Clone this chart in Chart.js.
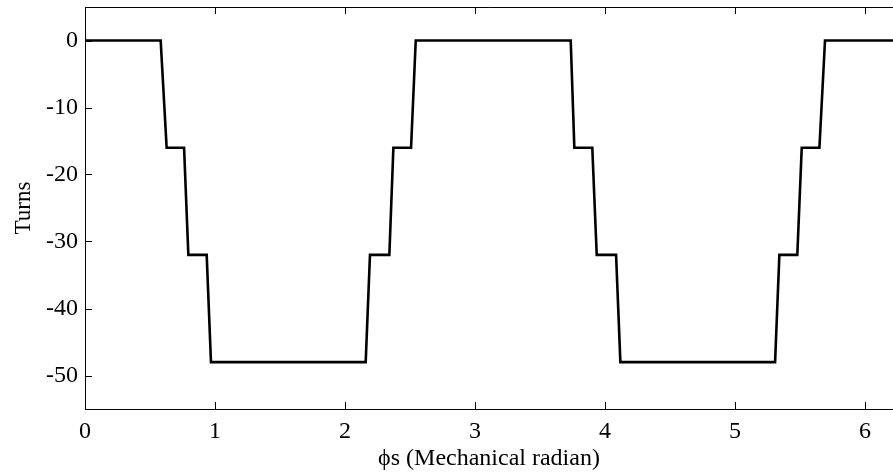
<!DOCTYPE html>
<html>
<head>
<meta charset="utf-8">
<script src="https://cdn.jsdelivr.net/npm/chart.js@4"></script>
<style>
  html, body { margin: 0; padding: 0; background: #fff; overflow: hidden; }
  #wrap { width: 893px; height: 473px; }
</style>
</head>
<body>
<div id="wrap"><canvas id="bieu-do"></canvas></div>
<script>
// Du lieu doc tu hinh
const gocPhi = [0, 0.582, 0.628, 0.762, 0.795, 0.936, 0.969, 2.159, 2.192, 2.341, 2.372, 2.508, 2.544,
  3.736, 3.764, 3.902, 3.936, 4.085, 4.118, 5.308, 5.341, 5.479, 5.513, 5.649, 5.692, 6.3];
const soVong = [0, 0, -16, -16, -32, -32, -48, -48, -32, -32, -16, -16, 0,
  0, -16, -16, -32, -32, -48, -48, -32, -32, -16, -16, 0, 0];
const xTicks = [0, 1, 2, 3, 4, 5, 6];
const yTicks = [0, -10, -20, -30, -40, -50];

const diem = gocPhi.map((x, i) => ({ x: x, y: soVong[i] }));
const fontSerif = 'Liberation Serif';

// ve khung va vach chia huong vao trong
const khungPlugin = {
  id: 'khung',
  afterDraw(chart) {
    const { ctx, chartArea: a, scales } = chart;
    ctx.save();
    ctx.strokeStyle = '#000';
    ctx.lineWidth = 1;
    ctx.beginPath();
    ctx.moveTo(a.left + 0.5, a.bottom + 0.5);
    ctx.lineTo(a.left + 0.5, a.top + 0.5);
    ctx.lineTo(a.right, a.top + 0.5);
    ctx.moveTo(a.left, a.bottom + 0.5);
    ctx.lineTo(a.right, a.bottom + 0.5);
    xTicks.forEach(v => {
      const px = Math.round(scales.x.getPixelForValue(v)) + 0.5;
      ctx.moveTo(px, a.bottom);
      ctx.lineTo(px, a.bottom - 7);
      ctx.moveTo(px, a.top);
      ctx.lineTo(px, a.top + 7);
    });
    yTicks.forEach(v => {
      const py = Math.round(scales.y.getPixelForValue(v)) + 0.5;
      ctx.moveTo(a.left, py);
      ctx.lineTo(a.left + 7, py);
    });
    ctx.stroke();
    ctx.restore();
  }
};

new Chart(document.getElementById('bieu-do'), {
  type: 'scatter',
  data: {
    datasets: [{
      data: diem,
      showLine: true,
      borderColor: '#000',
      borderWidth: 2.6,
      pointRadius: 0,
      tension: 0
    }]
  },
  options: {
    responsive: true,
    maintainAspectRatio: false,
    animation: false,
    layout: { padding: { top: 7, right: 0, left: 0, bottom: 0 } },
    plugins: { legend: { display: false }, tooltip: { enabled: false } },
    scales: {
      x: {
        type: 'linear',
        min: 0,
        max: 6.215,
        afterBuildTicks(scale) { scale.ticks = xTicks.map(v => ({ value: v })); },
        afterFit(scale) { scale.height = 64; scale.paddingLeft = 0; scale.paddingRight = 0; },
        grid: { display: false, drawTicks: false },
        border: { display: false },
        ticks: {
          color: '#000',
          padding: 8,
          maxRotation: 0,
          font: { family: fontSerif, size: 24 },
          callback: v => v
        },
        title: {
          display: true,
          text: 'ϕs (Mechanical radian)',
          color: '#000',
          padding: { top: 2, bottom: 0 },
          font: { family: fontSerif, size: 24 }
        }
      },
      y: {
        min: -55,
        max: 5,
        afterBuildTicks(scale) { scale.ticks = yTicks.map(v => ({ value: v })); },
        afterFit(scale) { scale.width = 85; scale.paddingTop = 0; scale.paddingBottom = 0; },
        grid: { display: false, drawTicks: false },
        border: { display: false },
        ticks: {
          color: '#000',
          padding: 7,
          font: { family: fontSerif, size: 24 },
          callback: v => v
        },
        title: {
          display: true,
          text: 'Turns',
          color: '#000',
          padding: { top: 10, bottom: 0 },
          font: { family: fontSerif, size: 23 }
        }
      }
    }
  },
  plugins: [khungPlugin]
});
</script>
</body>
</html>
